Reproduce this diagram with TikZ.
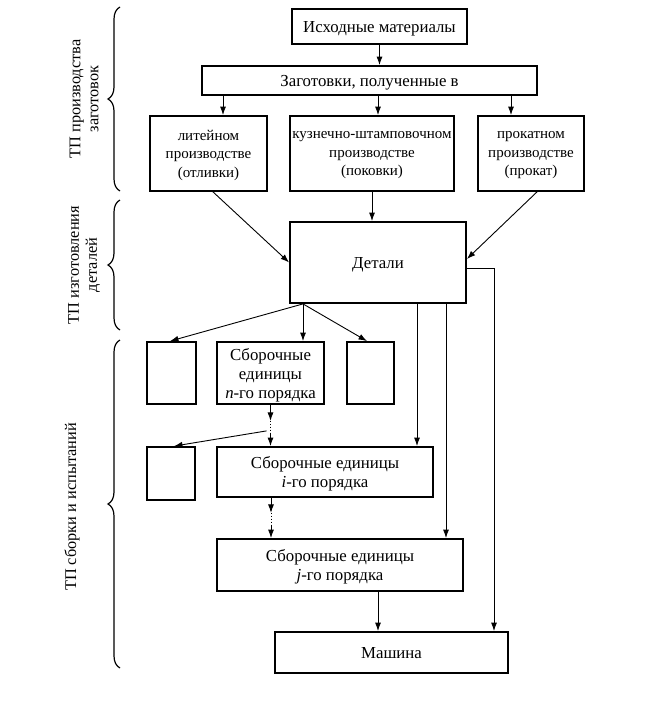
\documentclass[tikz,border=0pt]{standalone}
\usepackage{fontspec}
\setmainfont{Liberation Serif}
\usetikzlibrary{arrows.meta,decorations.pathreplacing,calc}
\begin{document}
\begin{tikzpicture}[x=1pt,y=-1pt,
  box/.style={draw,line width=1.8pt,inner sep=0pt,align=center,text depth=0pt,font=\fontsize{16.8}{19}\selectfont},
  srcbox/.style={box,font=\fontsize{15}{18.5}\selectfont},
  arr/.style={line width=0.9pt,-{Latex[length=8.5pt,width=6pt]}},
  dotline/.style={line width=0.9pt,dotted},
  curly/.style={decorate,decoration={brace,amplitude=12pt},line width=1.2pt},
  side/.style={rotate=90,align=center,font=\fontsize{16.3}{18}\selectfont}]
\useasboundingbox (0,0) rectangle (647,723);
% boxes
\node[box,minimum width=175pt,minimum height=35pt] (ish) at (379.5,26.5) {Исходные материалы};
\node[box,minimum width=335pt,minimum height=29pt] (zag) at (369.5,80.5) {Заготовки, полученные в};
\node[srcbox,minimum width=117pt,minimum height=75pt] (lit) at (208.5,153.5) {литейном\\производстве\\(отливки)};
\node[srcbox,minimum width=164pt,minimum height=75pt] (kuz) at (372,153.5) {кузнечно-штамповочном\\производстве\\(поковки)};
\node[srcbox,minimum width=106pt,minimum height=75pt] (prok) at (531,153.5) {прокатном\\производстве\\(прокат)};
\node[box,minimum width=176pt,minimum height=81pt] (det) at (378,262.5) {Детали};
\node[box,minimum width=49pt,minimum height=62pt] (sL) at (171.5,373) {};
\node[box,minimum width=107pt,minimum height=62pt] (sn) at (270.5,373) {Сборочные\\единицы\\\textit{n}-го порядка};
\node[box,minimum width=47pt,minimum height=62pt] (sR) at (370.5,373) {};
\node[box,minimum width=48pt,minimum height=53pt] (sL2) at (171,473.5) {};
\node[box,minimum width=216pt,minimum height=50pt] (si) at (325,472) {Сборочные единицы\\\textit{i}-го порядка};
\node[box,minimum width=246pt,minimum height=52pt] (sj) at (340,565) {Сборочные единицы\\\textit{j}-го порядка};
\node[box,minimum width=233pt,minimum height=41pt] (mash) at (391.5,652.5) {Машина};
% arrows top
\draw[arr] (ish.south) -- (ish.south |- zag.north);
\draw[arr] ([xshift=14.5pt]lit.north |- zag.south) -- ([xshift=14.5pt]lit.north);
\draw[arr] ([xshift=6pt]kuz.north |- zag.south) -- ([xshift=6pt]kuz.north);
\draw[arr] ([xshift=-20pt]prok.north |- zag.south) -- ([xshift=-20pt]prok.north);
\draw[arr] ([xshift=4.5pt]lit.south) -- (det.west);
\draw[arr] (kuz.south) -- (kuz.south |- det.north);
\draw[arr] ([xshift=6pt]prok.south) -- ([yshift=3.5pt]det.east);
% from Детали
\draw[arr] ([yshift=-5.5pt]det.east) -| ([xshift=102.5pt]mash.north);
\draw[arr] ([xshift=39pt]det.south) -- ([xshift=39pt]det.south |- si.north);
\draw[arr] ([xshift=68pt]det.south) -- ([xshift=68pt]det.south |- sj.north);
\coordinate (dp) at ([xshift=-75pt]det.south);
\draw[arr] (dp) -- ([xshift=-1.5pt]sL.north);
\draw[arr] (dp) -- (dp |- sn.north);
\draw[arr] (dp) -- ([xshift=-3.5pt]sR.north);
% n -> i
\coordinate (n1) at ([yshift=-16pt]sn.south);
\coordinate (n2) at ([yshift=-28pt]sn.south);
\draw[arr] (sn.south) -- (n1);
\draw[dotline] (n1) -- (n2);
\draw[arr] (n2) -- (n2 |- si.north);
\coordinate (nb) at ([xshift=-4pt,yshift=-26pt]sn.south);
\draw[arr] (nb) -- ([xshift=3pt]sL2.north);
% i -> j
\coordinate (i0) at ([xshift=-54pt]si.south);
\coordinate (i1) at ([xshift=-54pt,yshift=-15pt]si.south);
\coordinate (i2) at ([xshift=-54pt,yshift=-28pt]si.south);
\draw[arr] (i0) -- (i1);
\draw[dotline] (i1) -- (i2);
\draw[arr] (i2) -- (i2 |- sj.north);
% j -> Машина
\draw[arr] ([xshift=38pt]sj.south) -- ([xshift=38pt]sj.south |- mash.north);
% braces
\draw[curly] (120,191) -- (120,7);
\draw[curly] (120,330) -- (120,200);
\draw[curly] (120,668) -- (120,340);
\node[side] (l1) at (84,99) {ТП производства\\заготовок};
\node[side] (l2) at (84,265) {ТП изготовления\\деталей};
\node[side] (l3) at (72,507) {ТП сборки и испытаний};
\end{tikzpicture}
\end{document}
